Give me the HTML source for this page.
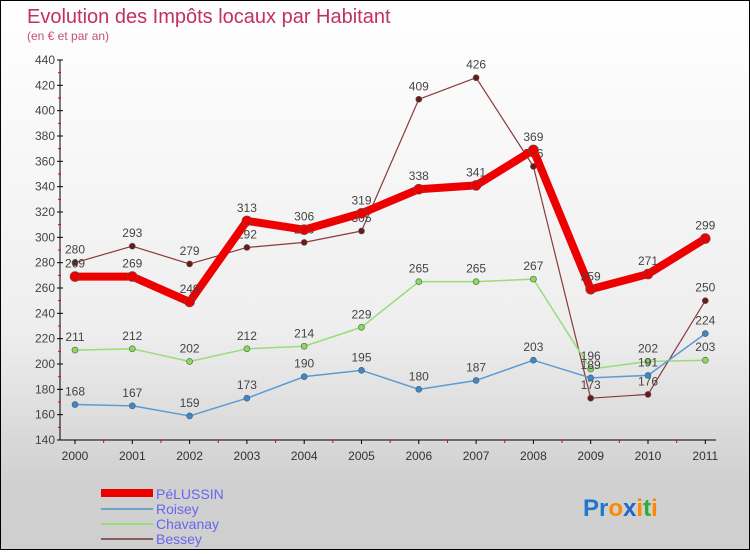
<!DOCTYPE html>
<html><head><meta charset="utf-8"><style>
html,body{margin:0;padding:0}
body{width:750px;height:550px;overflow:hidden;font-family:"Liberation Sans","DejaVu Sans",sans-serif}
#wrap{position:relative;width:748px;height:548px;border:1px solid #000;background:linear-gradient(#ffffff 0%,#eeeeee 60%,#d0d0d0 88%,#cfcfcf 100%)}
</style></head><body>
<div id="wrap">
<svg id="chart" width="748" height="548" xmlns="http://www.w3.org/2000/svg">
<text x="26" y="22" font-size="20" fill="#c2305f">Evolution des Impôts locaux par Habitant</text>
<text x="26" y="39" font-size="12" fill="#c2507a">(en € et par an)</text>
<g id="axes"></g><g id="series"></g>
<g>
<rect x="100" y="488" width="52" height="8" fill="#ee0000"/>
<text x="155" y="498" font-size="14" fill="#6666ee">PéLUSSIN</text>
<rect x="100" y="507" width="52" height="2" fill="#6fa0c8"/>
<text x="155" y="513" font-size="14" fill="#6666ee">Roisey</text>
<rect x="100" y="522" width="52" height="2" fill="#99dd77"/>
<text x="155" y="528" font-size="14" fill="#6666ee">Chavanay</text>
<rect x="100" y="537" width="52" height="2" fill="#8b5a5a"/>
<text x="155" y="543" font-size="14" fill="#6666ee">Bessey</text>
</g>
<text x="582" y="515" font-size="24" font-weight="bold"><tspan fill="#2277cc">Pr</tspan><tspan fill="#ff8800">o</tspan><tspan fill="#2266cc">x</tspan><tspan fill="#ff8800">i</tspan><tspan fill="#33aa33">t</tspan><tspan fill="#ff8800">i</tspan></text>
</svg></div>
<script>
const years=["2000","2001","2002","2003","2004","2005","2006","2007","2008","2009","2010","2011"];
const yTicks=[140,160,180,200,220,240,260,280,300,320,340,360,380,400,420,440];
const pelussin=[269,269,249,313,306,319,338,341,369,259,271,299];
const roisey=[168,167,159,173,190,195,180,187,203,189,191,224];
const chavanay=[211,212,202,212,214,229,265,265,267,196,202,203];
const bessey=[280,293,279,292,296,305,409,426,356,173,176,250];
const NS="http://www.w3.org/2000/svg";
const x0=74,dx=57.3,yBase=439,yScale=380/300;
const X=i=>x0+i*dx, Y=v=>yBase-(v-140)*yScale;
function mk(t,a,p){const e=document.createElementNS(NS,t);for(const k in a)e.setAttribute(k,a[k]);p.appendChild(e);return e;}
const ax=document.getElementById('axes');
let l=mk('line',{x1:59,y1:Y(440),x2:59,y2:yBase,stroke:'#000'},ax);

l=mk('line',{x1:59,y1:yBase,x2:715,y2:yBase,stroke:'#000'},ax);

yTicks.forEach((v,i)=>{
 mk('line',{x1:56,y1:Y(v),x2:62,y2:Y(v),stroke:'#000'},ax);
 if(i<yTicks.length-1)mk('line',{x1:57,y1:Y(v+10),x2:60,y2:Y(v+10),stroke:'#e00'},ax);
 const t=mk('text',{x:54,y:Y(v)+4,'font-size':12,fill:'#444','text-anchor':'end'},ax);t.textContent=v;
 
});
years.forEach((y,i)=>{
 mk('line',{x1:X(i),y1:yBase,x2:X(i),y2:yBase+4,stroke:'#000'},ax);
 if(i<years.length-1)mk('line',{x1:X(i)+dx/2,y1:yBase,x2:X(i)+dx/2,y2:yBase+3,stroke:'#e00'},ax);
 const t=mk('text',{x:X(i),y:yBase+20,'font-size':12,fill:'#333','text-anchor':'middle'},ax);t.textContent=y;
 
});
const sg=document.getElementById('series');
function draw(name,data,color,w,r,dot){
 const g=mk('g',{},sg);
 
 const p=mk('polyline',{points:data.map((v,i)=>X(i)+','+Y(v)).join(' '),fill:'none',stroke:color,'stroke-width':w,'stroke-linejoin':'round'},g);
 
 data.forEach((v,i)=>{
  const c=mk('circle',{cx:X(i),cy:Y(v),r:r,fill:dot,stroke:'#555','stroke-width':0.6},g);
  
  const t=mk('text',{x:X(i),y:Y(v)-9,'font-size':12,fill:'#444','text-anchor':'middle'},g);t.textContent=v;
  
 });
}
draw('bessey',bessey,'#8b3a3a',1.2,3,'#6b1a1a');
draw('chavanay',chavanay,'#99dd77',1.5,3,'#88dd55');
draw('roisey',roisey,'#5b9bd5',1.5,3,'#3b88cc');
draw('pelussin',pelussin,'#ee0000',8,5,'#ee0000');
</script>
</body></html>
